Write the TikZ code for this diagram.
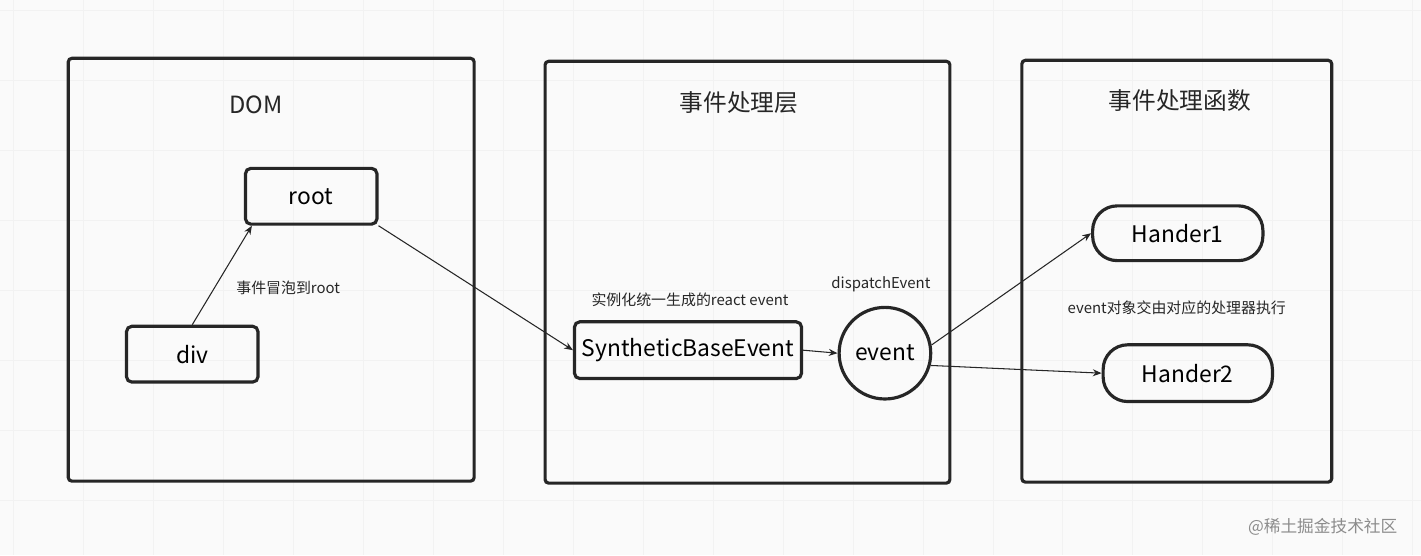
\documentclass[tikz,border=0pt]{standalone}
\usepackage{fontspec}
\setmainfont{Noto Sans CJK SC}
\usetikzlibrary{arrows.meta}
\tikzset{
  frame/.style={draw=black!85,line width=1.8pt,rounded corners=2pt},
  box/.style={draw=black!85,line width=1.8pt,rounded corners=3pt,inner sep=0pt,font=\fontsize{13}{15}\selectfont},
  pill/.style={box,rounded corners=14pt},
  note/.style={font=\fontsize{8.5}{10}\selectfont,text=black!85},
  title/.style={font=\fontsize{13.5}{16}\selectfont,text=black!85},
  link/.style={-{Stealth[length=5pt,width=4pt]},black!85,line width=0.6pt}
}
\begin{document}
\begin{tikzpicture}[x=0.02cm,y=-0.02cm]
\fill[white!97!blue!30!white] (0,0) rectangle (1421,555);
\fill[black!2] (0,0) rectangle (1421,555);
\foreach \x in {13,83,...,1421}
\draw[black!5] (\x,0) -- (\x,555);
\foreach \y in {10,80,...,555}
\draw[black!5] (0,\y) -- (1421,\y);
\useasboundingbox (0,0) rectangle (1421,555);

% frames
\draw[frame] (68,58) rectangle (474,481);
\draw[frame] (545,61) rectangle (950,483);
\draw[frame] (1022,60) rectangle (1332,482);
\node[title] (tdom) at (256,105) {DOM};
\node[title] (tlayer) at (739,102) {事件处理层};
\node[title] (tfunc) at (1180,100) {事件处理函数};

% nodes
\node[box,minimum width=132\pgflinewidth/1.8,minimum height=56*0.567pt,minimum width=132*0.567pt] (root) at (311,196) {root};
\node[box,minimum height=56*0.567pt,minimum width=132*0.567pt] (div) at (192,354) {div};
\node[box,minimum height=57*0.567pt,minimum width=228*0.567pt] (sbe) at (688,350) {SyntheticBaseEvent};
\node[box,circle,minimum size=92*0.567pt] (event) at (885,353) {event};
\node[pill,minimum height=55*0.567pt,minimum width=171*0.567pt] (h1) at (1178,233) {Hander1};
\node[pill,minimum height=57*0.567pt,minimum width=170*0.567pt] (h2) at (1188,373) {Hander2};

% labels
\node[note] (lbub) at (288,288) {事件冒泡到root};
\node[note] (lsyn) at (690,300) {实例化统一生成的react event};
\node[note] (ldis) at (881,284) {dispatchEvent};
\node[note] (lexe) at (1177,308) {event对象交由对应的处理器执行};
\node[font=\fontsize{9.5}{11}\selectfont,text=black!45] (mark) at (1323,527) {@稀土掘金技术社区};

% connectors
\draw[link] (div.north) -- ([xshift=8*0.567pt]root.south west);
\draw[link] (root.south east) -- (sbe.west);
\draw[link] (sbe.east) -- (event.west);
\draw[link] (event.10) -- (h1.west);
\draw[link] (event.-15) -- (h2.west);
\end{tikzpicture}
\end{document}
